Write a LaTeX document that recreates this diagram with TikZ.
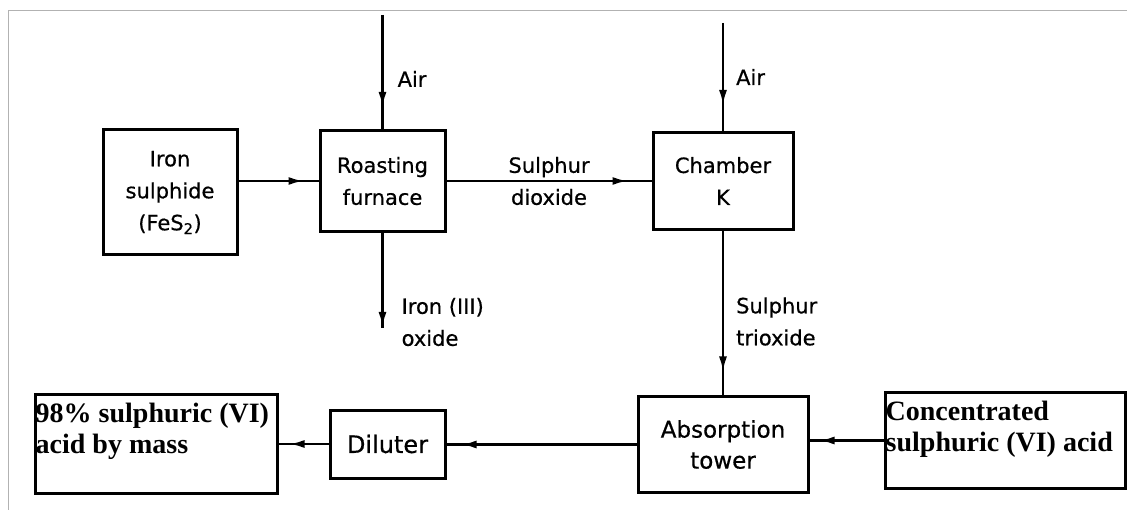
\documentclass[tikz,border=0pt]{standalone}
\usepackage{fontspec}
\setmainfont{DejaVu Sans}[FakeBold=0.6]
\newfontfamily\notefont{Liberation Serif}
\usetikzlibrary{arrows.meta,decorations.markings}
\tikzset{unit/.style={draw, line width=3pt, align=center, inner sep=0pt},
         flow/.style={line width=2.3pt, postaction={decorate},
           decoration={markings, mark=at position -#1 with {\arrow{Latex[length=15pt,width=8pt]}}}},
         lbl/.style={align=left, inner sep=0pt},
         note/.style={align=left, inner sep=0pt, anchor=north west, font=\notefont\bfseries\fontsize{28}{31}\selectfont}}

\begin{document}
\begin{tikzpicture}[x=1pt, y=-1pt, font=\fontsize{21}{32}\selectfont]
  \useasboundingbox (0,0) rectangle (1127,510);
  \draw[gray!60, line width=0.8pt] (8,510) -- (8,10) -- (1127,10);

  % ---------- top row ----------
  \node[unit, minimum width=134, minimum height=125] (iron) at (170,192.5) {Iron\\sulphide\\(FeS\textsubscript{2})};
  \node[unit, minimum width=125, minimum height=101] (roast) at (382.5,181) {Roasting\\furnace};
  \node[unit, minimum width=140, minimum height=97] (chamber) at (723,181) {Chamber\\K};

  \coordinate (airA) at (382.5,15);
  \coordinate (airB) at (723,23);
  \coordinate (oxide) at (382.5,328);

  \draw[flow=22pt] (airA) -- node[lbl, pos=.56, anchor=west, xshift=14pt] (airAtxt) {Air} (roast.north);
  \draw[flow=26pt] (airB) -- node[lbl, midway, anchor=west, xshift=12pt] (airBtxt) {Air} (chamber.north);
  \draw[flow=15pt] (iron.east |- roast.west) -- (roast.west);
  \draw[flow=24pt] (roast.east) -- node[lbl, midway, align=center] (so2txt) {Sulphur\\dioxide} (chamber.west);
  \draw[flow=1pt] (roast.south) -- (oxide) node[lbl, anchor=west, xshift=18pt, yshift=6pt] (oxtxt) {Iron (III)\\oxide};

  % ---------- bottom row ----------
  \node[unit, minimum width=170, minimum height=95, font=\fontsize{23}{31}\selectfont] (absorb) at (723,444.5) {Absorption\\tower};
  \node[unit, minimum width=115, minimum height=68, font=\fontsize{24}{30}\selectfont] (diluter) at (387.5,444) {Diluter};
  \node[unit, minimum width=242, minimum height=98] (acid) at (156,444) {};
  \node[unit, minimum width=240, minimum height=95] (conc) at (1005,440.5) {};
  \node[note, xshift=2pt, yshift=-9pt] (acidtxt) at (acid.north west) {98\% sulphuric (VI)\\acid by mass};
  \node[note, xshift=2pt, yshift=-9pt] (conctxt) at (conc.north west) {Concentrated\\sulphuric (VI) acid};

  \draw[flow=24pt] (chamber.south) -- node[lbl, pos=.55, anchor=west, xshift=12pt] (so3txt) {Sulphur\\trioxide} (absorb.north);
  \draw[flow=10pt] (conc.west) -- (conc.west -| absorb.east);
  \draw[flow=15pt] (absorb.west) -- (absorb.west -| diluter.east);
  \draw[flow=11pt] (diluter.west) -- (diluter.west -| acid.east);
\end{tikzpicture}
\end{document}
